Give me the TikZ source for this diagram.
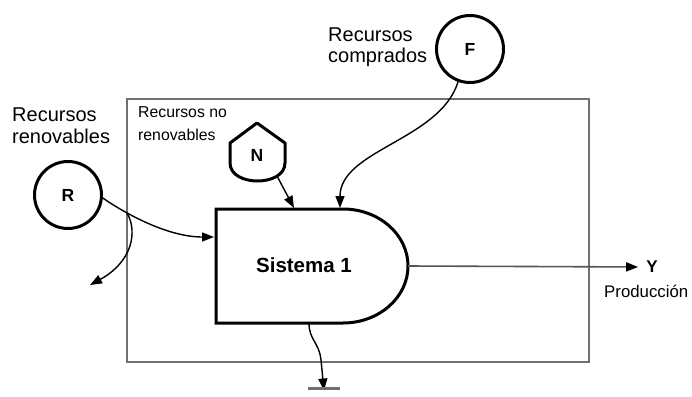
\documentclass[tikz,border=0pt]{standalone}
\usepackage{fontspec}
\setmainfont{Liberation Sans}
\usetikzlibrary{arrows.meta}
\definecolor{boxgray}{RGB}{112,112,112}
\definecolor{outgray}{RGB}{85,85,85}
\begin{document}
\begin{tikzpicture}[x=1pt,y=-1pt,
  lbl/.style={font=\fontsize{20}{22}\selectfont, align=left, inner sep=0pt, anchor=north west},
  src/.style={circle, draw, line width=3pt, minimum size=67pt, inner sep=0pt, font=\bfseries\fontsize{17.5}{20}\selectfont},
  tip/.style={-{Triangle[length=12pt,width=9pt,color=black]}},
  flow/.style={line width=1.4pt, tip},
  thick border/.style={line width=3pt, line join=miter},
]
\useasboundingbox (0,0) rectangle (692,396);
% outer system boundary
\draw[line width=2pt, draw=boxgray] (127,99) rectangle (589,362);
% Sistema 1
\draw[thick border] (216,209) -- (343,209) arc[start angle=-90, end angle=90, x radius=65, y radius=57] -- (216,323) -- cycle;
\node[font=\bfseries\fontsize{20.5}{24}\selectfont, inner sep=0pt] (sis) at (304,265) {Sistema 1};
\coordinate (sisL) at (214,237);
\coordinate (sisT1) at (294,208);
\coordinate (sisT2) at (340,208);
\coordinate (sisR) at (408,266);
\coordinate (sisB) at (309,323);
% sources
\node[src] (R) at (68,195) {R};
\node[src] (F) at (470,49) {F};
\draw[line width=3pt, line join=round] (230,143) -- (257,123) -- (285,143) -- (285,163) .. controls (285,187) and (230,187) .. (230,163) -- cycle;
\node[font=\bfseries\fontsize{17.5}{20}\selectfont, inner sep=0pt] (N) at (257,155) {N};
\coordinate (nout) at (277,176);
% labels
\node[lbl] (lr) at (12,108) {Recursos\\renovables};
\node[lbl, font=\fontsize{15.8}{23}\selectfont] (lnr) at (138,106) {Recursos no\\renovables};
\node[lbl, font=\fontsize{20}{21}\selectfont] (lc) at (328,28) {Recursos\\comprados};
% flows
\coordinate (rb) at (127,213);
\coordinate (rout) at (90,285);
\draw[flow] (R.-5) .. controls (120,210) and (165,237) .. (sisL);
\draw[flow] (rb) .. controls (138,232) and (132,262) .. (rout);
\draw[flow] (nout) -- (sisT1);
\draw[flow] (F.-110) .. controls (440,140) and (340,150) .. (sisT2);
% output
\node[font=\bfseries\fontsize{17}{20}\selectfont, inner sep=0pt] (Y) at (652,267) {Y};
\node[font=\fontsize{16.8}{20}\selectfont, inner sep=0pt, anchor=base west] (prod) at (604,297) {Producción};
\draw[line width=1.6pt, draw=outgray, tip, shorten >=8pt] (sisR) -- (Y.west);
% heat sink
\coordinate (gnd) at (324,390.5);
\draw[flow] (sisB) .. controls (309,340) and (319,342) .. (321,360) -- (gnd);
\draw[line width=3pt, draw=boxgray] ([xshift=-16pt,yshift=2pt]gnd) -- ([xshift=16pt,yshift=2pt]gnd);
\end{tikzpicture}
\end{document}
